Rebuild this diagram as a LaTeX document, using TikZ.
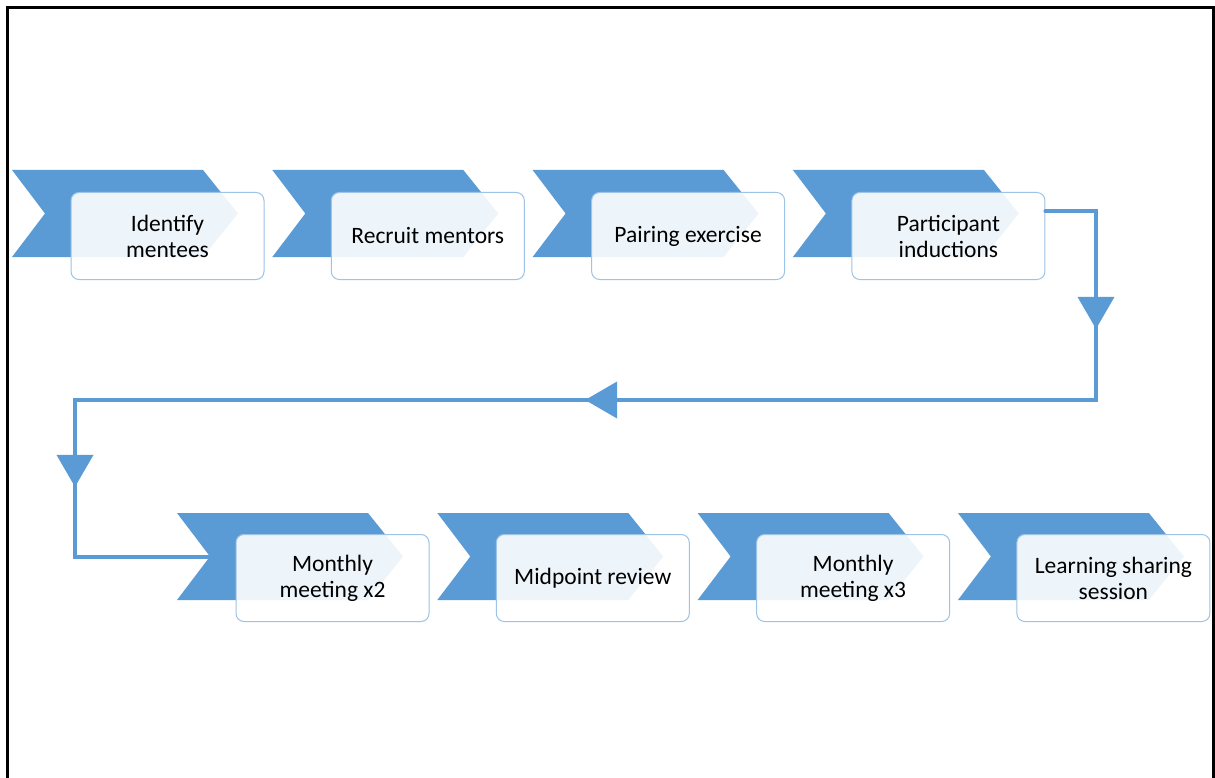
\documentclass[tikz,border=0pt]{standalone}
\usepackage{fontspec}
\setmainfont{Carlito}
\usetikzlibrary{arrows.meta,decorations.markings,calc}
\definecolor{stepblue}{HTML}{5B9BD5}
\definecolor{boxline}{HTML}{9DC3E6}

% blue chevron with its left notch named #1; #2,#3 = top-left corner
\newcommand\chevronat[3]{%
  \fill[chevron] (#2,#3) -- ++(191,0) -- ++(35,43.5) -- ++(-35,43.5)
    -- ++(-191,0) -- ++(33,-43.5) -- cycle;
  \coordinate (#1) at ($(#2,#3)+(33,43.5)$);
}

\tikzset{flowtip/.tip={Triangle[width=36pt,length=32pt]}}

\begin{document}
\begin{tikzpicture}[x=1pt,y=-1pt,
  chevron/.style={fill=stepblue},
  stepbox/.style={draw=boxline, line width=1pt, fill=white, fill opacity=0.9,
    text opacity=1, rounded corners=8pt, minimum width=193pt,
    minimum height=87pt, inner sep=0pt, align=center, anchor=north west,
    font=\fontsize{23.5}{26}\selectfont},
  flow/.style={draw=stepblue, color=stepblue, line width=4pt,
    line cap=round, line join=miter}
]
\useasboundingbox (0,0) rectangle (1215,778);
\fill[white] (0,0) rectangle (1215,778);

% outer frame (open at the bottom)
\draw[line width=3pt] (7.5,790) -- (7.5,7.5) -- (1213.5,7.5) -- (1213.5,790);

% chevrons, first row and second row
\foreach \i/\x in {1/12,2/272.3,3/532.6,4/792.9}
  \chevronat{c\i}{\x}{170};
\foreach \i/\x in {5/177,6/437.3,7/697.6,8/957.9}
  \chevronat{c\i}{\x}{513};

% step boxes
\node[stepbox] (b1) at (70.5,192)   {Identify\\mentees};
\node[stepbox] (b2) at (330.8,192)  {Recruit mentors};
\node[stepbox] (b3) at (591.1,192)  {Pairing exercise};
\node[stepbox] (b4) at (851.4,192)  {Participant\\inductions};
\node[stepbox] (b5) at (235.5,534)  {Monthly\\meeting x2};
\node[stepbox] (b6) at (495.8,534)  {Midpoint review};
\node[stepbox] (b7) at (756.1,534)  {Monthly\\meeting x3};
\node[stepbox] (b8) at (1016.4,534) {Learning sharing\\session};

% connector from the first row down to the second row
\coordinate (start) at ($(b4.north east)+(0,19.5)$);
\coordinate (t1) at (1096,211.5);
\coordinate (t2) at (1096,400);
\coordinate (t3) at (75,400);
\coordinate (t4) at ($(c5)+(-135,0)$);
\draw[flow, postaction={decorate}, decoration={markings,
    mark=at position 168pt with {\arrow{flowtip}},
    mark=at position 750pt with {\arrow{flowtip}},
    mark=at position 1347pt with {\arrow{flowtip}}}]
  (start) -- (t1) -- (t2) -- (t3) -- (t4) -- (c5);
\end{tikzpicture}
\end{document}
